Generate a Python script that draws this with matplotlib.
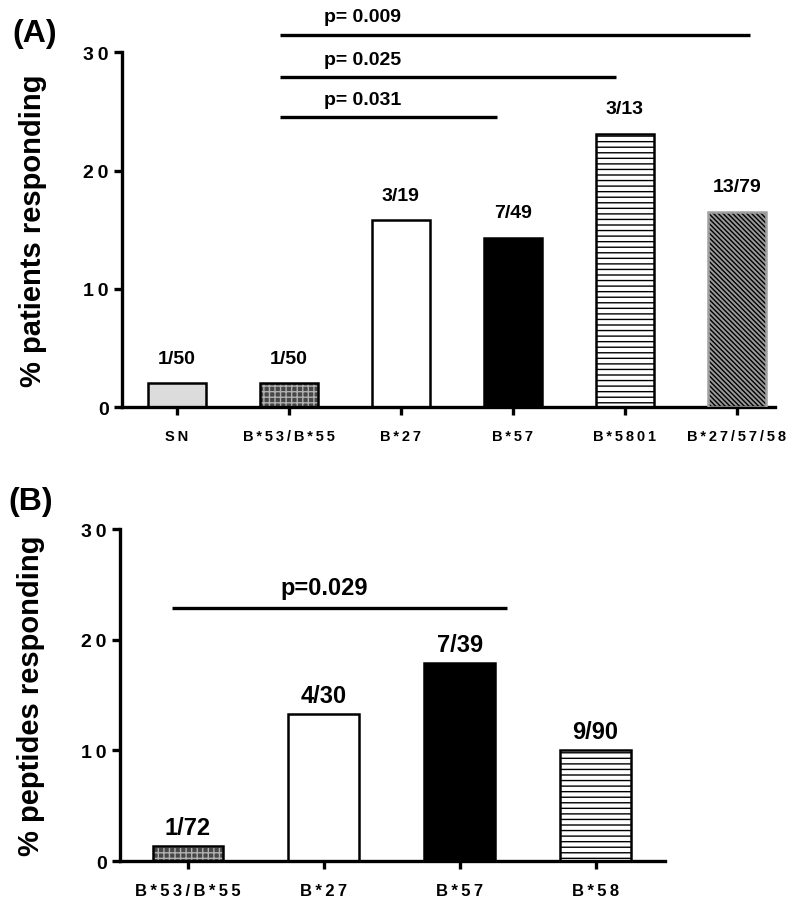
import matplotlib
matplotlib.use("Agg")
import matplotlib.pyplot as plt

plt.rcParams['font.family'] = ['Liberation Sans', 'DejaVu Sans']
plt.rcParams['font.weight'] = 'bold'
plt.rcParams['hatch.linewidth'] = 1.0

# panel A data
groups_a = ["SN", "B*53/B*55", "B*27", "B*57", "B*5801", "B*27/57/58"]
pct_a = [2.0, 2.0, 15.8, 14.3, 23.1, 16.5]
frac_a = ["1/50", "1/50", "3/19", "7/49", "3/13", "13/79"]
# (from, to, height, label, label x)
sig_a = [(0.92, 5.12, 31.5, "p= 0.009", 1.66),
         (0.92, 3.92, 27.9, "p= 0.025", 1.66),
         (0.92, 2.86, 24.5, "p= 0.031", 1.66)]

# panel B data
groups_b = ["B*53/B*55", "B*27", "B*57", "B*58"]
pct_b = [1.4, 13.3, 17.9, 10.0]
frac_b = ["1/72", "4/30", "7/39", "9/90"]
sig_b = [(-0.12, 2.35, 22.9, "p=0.029", 1.0)]

yticks = [0, 10, 20, 30]

# fill, hatch, hatch colour, edge colour
styles = {
    "SN": ("#dcdcdc", None, "black", "black"),
    "B*53/B*55": ("#474747", "+++", "#b0b0b0", "black"),
    "B*27": ("white", None, "black", "black"),
    "B*57": ("black", None, "black", "black"),
    "B*5801": ("white", "---", "black", "black"),
    "B*58": ("white", "---", "black", "black"),
    "B*27/57/58": ("#9a9a9a", "\\" * 7, "black", "#a0a0a0"),
}


def spaced(s):
    return "\u2009".join(s)


def draw_panel(ax, groups, pct, frac, sig, ylabel, xlim, lab_size, frac_size, p_size, frac_off):
    x = list(range(len(groups)))
    for xi, g, v in zip(x, groups, pct):
        fc, hatch, hc, ec = styles[g]
        ax.bar(xi, v, width=0.52, color=fc, hatch=hatch, edgecolor=hc, linewidth=0, zorder=2)
        ax.bar(xi, v, width=0.52, fill=False, edgecolor=ec, linewidth=1.8, zorder=3)
    for xi, v, t in zip(x, pct, frac):
        ax.annotate(t, (xi, v), xytext=(0, frac_off), textcoords="offset points",
                    ha="center", va="bottom", fontsize=frac_size, fontweight="bold")
    for x0, x1, h, t, tx in sig:
        ax.plot([x0, x1], [h, h], color="black", lw=2.4, clip_on=False,
                solid_capstyle="butt")
        ax.text(tx, h + 0.8, t, ha="center", va="bottom", fontsize=p_size,
                fontweight="bold", clip_on=False)
    ax.set_xlim(*xlim)
    ax.set_ylim(0, 30)
    ax.set_yticks(yticks)
    ax.set_yticklabels([spaced(str(v)) for v in yticks], fontsize=14, fontweight="bold")
    ax.set_xticks(x)
    ax.set_xticklabels([spaced(g) for g in groups], fontsize=lab_size, fontweight="bold")
    for s in ["top", "right"]:
        ax.spines[s].set_visible(False)
    for s in ["left", "bottom"]:
        ax.spines[s].set_linewidth(2.4)
    ax.tick_params(axis="both", width=2.4, length=6)
    ax.tick_params(axis="x", pad=10)
    ax.set_ylabel(ylabel, fontsize=21, fontweight="bold", labelpad=26)


fig = plt.figure(figsize=(8, 9.03), dpi=100)
ax_a = fig.add_axes([0.1525, 0.548, 0.816, 0.393])
ax_b = fig.add_axes([0.15, 0.0454, 0.681, 0.3676])

draw_panel(ax_a, groups_a, pct_a, frac_a, sig_a, "% patients responding",
           (-0.49, 5.34), 10.5, 14, 14, 12)
draw_panel(ax_b, groups_b, pct_b, frac_b, sig_b, "% peptides responding",
           (-0.5, 3.51), 12, 17, 17, 5)

fig.text(0.043, 0.962, "(A)", fontsize=23, fontweight="bold", ha="center", va="center")
fig.text(0.038, 0.444, "(B)", fontsize=23, fontweight="bold", ha="center", va="center")

fig.savefig("out.png", dpi=100)
